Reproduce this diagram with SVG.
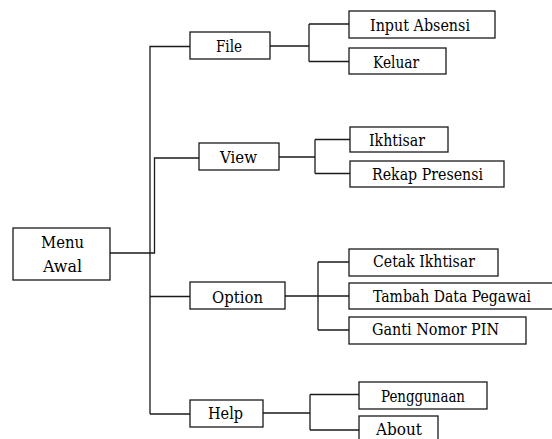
<svg xmlns="http://www.w3.org/2000/svg" width="552" height="439" viewBox="0 0 552 439">
<style>
.box{fill:#fff;stroke:#1a1a1a;stroke-width:1.3}
.ln{fill:none;stroke:#1a1a1a;stroke-width:1.3}
</style>
<rect width="552" height="439" fill="#fff"/>
<g id="connectors" class="ln">
<path d="M110,253 H154.5 V158 H199"/>
<path d="M150,414 V46.5 H190"/>
<path d="M150,296.5 H190"/>
<path d="M150,414 H190"/>
<path d="M270,46 H309 M309,24 V61.5 M309,24 H349 M309,61.5 H349"/>
<path d="M279,157 H315 M315,139.5 V173.5 M315,139.5 H350 M315,173.5 H350"/>
<path d="M285,296 H349 M318,262 V330 M318,262 H349 M318,330 H349"/>
<path d="M263,413 H310 M310,394.5 V430 M310,394.5 H359 M310,430 H359"/>
</g>
<g font-family="DejaVu Serif, Liberation Serif, serif" font-size="16" fill="#000">
<g id="menu-awal"><rect class="box" x="13" y="228" width="97" height="52"/><text x="41" y="248" textLength="43" lengthAdjust="spacingAndGlyphs">Menu</text><text x="43" y="272" textLength="39" lengthAdjust="spacingAndGlyphs">Awal</text></g>
<g id="file"><rect class="box" x="190" y="32" width="80" height="27"/><text x="216" y="52" textLength="26" lengthAdjust="spacingAndGlyphs">File</text></g>
<g id="view"><rect class="box" x="199" y="143" width="80" height="27"/><text x="220" y="163" textLength="37" lengthAdjust="spacingAndGlyphs">View</text></g>
<g id="option"><rect class="box" x="190" y="282" width="95" height="27"/><text x="212" y="303" textLength="51" lengthAdjust="spacingAndGlyphs">Option</text></g>
<g id="help"><rect class="box" x="190" y="400" width="73" height="27"/><text x="208" y="419" textLength="35" lengthAdjust="spacingAndGlyphs">Help</text></g>
<g id="input-absensi"><rect class="box" x="349" y="11" width="146" height="27"/><text x="370" y="31" textLength="100" lengthAdjust="spacingAndGlyphs">Input Absensi</text></g>
<g id="keluar"><rect class="box" x="349" y="48" width="97" height="26"/><text x="373" y="68" textLength="46" lengthAdjust="spacingAndGlyphs">Keluar</text></g>
<g id="ikhtisar"><rect class="box" x="350" y="127" width="98" height="25"/><text x="369" y="146" textLength="56" lengthAdjust="spacingAndGlyphs">Ikhtisar</text></g>
<g id="rekap-presensi"><rect class="box" x="350" y="161" width="154" height="26"/><text x="372" y="180" textLength="111" lengthAdjust="spacingAndGlyphs">Rekap Presensi</text></g>
<g id="cetak-ikhtisar"><rect class="box" x="349" y="249" width="149" height="27"/><text x="373" y="267" textLength="102" lengthAdjust="spacingAndGlyphs">Cetak Ikhtisar</text></g>
<g id="tambah-data-pegawai"><rect class="box" x="349" y="283" width="215" height="26"/><text x="373" y="302" textLength="158" lengthAdjust="spacingAndGlyphs">Tambah Data Pegawai</text></g>
<g id="ganti-nomor-pin"><rect class="box" x="349" y="317" width="177" height="27"/><text x="372" y="335" textLength="127" lengthAdjust="spacingAndGlyphs">Ganti Nomor PIN</text></g>
<g id="penggunaan"><rect class="box" x="359" y="382" width="128" height="27"/><text x="381" y="402" textLength="84" lengthAdjust="spacingAndGlyphs">Penggunaan</text></g>
<g id="about"><rect class="box" x="359" y="416" width="79" height="30"/><text x="376" y="435" textLength="46" lengthAdjust="spacingAndGlyphs">About</text></g>
</g>
</svg>
